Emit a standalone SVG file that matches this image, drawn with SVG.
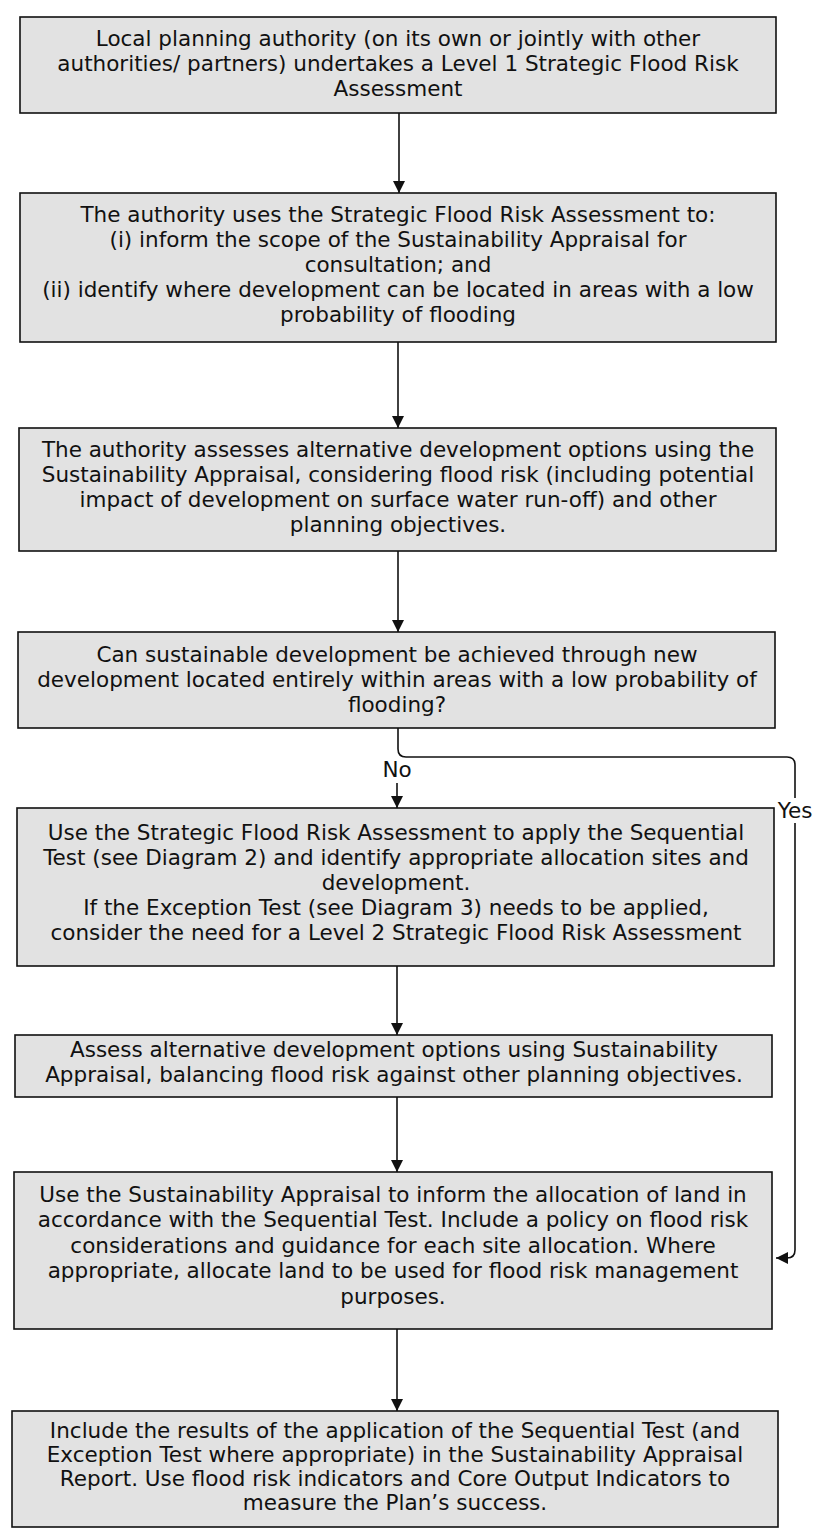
<svg xmlns="http://www.w3.org/2000/svg" width="814" height="1535" viewBox="0 0 814 1535">
<style>
  .box { fill: #e2e2e2; stroke: #111; stroke-width: 1.6; }
  .t { font-family: "DejaVu Sans", Verdana, sans-serif; font-size: 21.5px; fill: #111; text-anchor: middle; }
  .lbl { font-family: "DejaVu Sans", Verdana, sans-serif; font-size: 21.5px; fill: #111; text-anchor: middle; }
  .conn { fill: none; stroke: #111; stroke-width: 1.6; }
</style>
<defs>
  <marker id="ah" markerUnits="userSpaceOnUse" markerWidth="14" markerHeight="14" refX="12" refY="6" orient="auto">
    <path d="M0,0 L12,6 L0,12 Z" fill="#111"/>
  </marker>
</defs>
<rect width="814" height="1535" fill="#ffffff"/>

<g id="connectors">
  <line class="conn" x1="399" y1="113" x2="399" y2="193" marker-end="url(#ah)"/>
  <line class="conn" x1="398" y1="342" x2="398" y2="428" marker-end="url(#ah)"/>
  <line class="conn" x1="398" y1="551" x2="398" y2="632" marker-end="url(#ah)"/>
  <path class="conn" d="M398,728 V749 Q398,757 406,757 H787 Q795,757 795,765 V798"/>
  <path class="conn" d="M795,823 V1250 Q795,1258 787,1258 H776" marker-end="url(#ah)"/>
  <text class="lbl" x="397" y="777">No</text>
  <text class="lbl" x="795" y="818">Yes</text>
  <line class="conn" x1="397" y1="783" x2="397" y2="808" marker-end="url(#ah)"/>
  <line class="conn" x1="397" y1="966" x2="397" y2="1035" marker-end="url(#ah)"/>
  <line class="conn" x1="397" y1="1097" x2="397" y2="1172" marker-end="url(#ah)"/>
  <line class="conn" x1="397" y1="1329" x2="397" y2="1411" marker-end="url(#ah)"/>
</g>

<g id="n1">
  <rect class="box" x="20" y="17" width="756" height="96"/>
  <text class="t" x="398" y="46">Local planning authority (on its own or jointly with other</text>
  <text class="t" x="398" y="71">authorities/ partners) undertakes a Level 1 Strategic Flood Risk</text>
  <text class="t" x="398" y="96">Assessment</text>
</g>

<g id="n2">
  <rect class="box" x="20" y="193" width="756" height="149"/>
  <text class="t" x="398" y="222">The authority uses the Strategic Flood Risk Assessment to:</text>
  <text class="t" x="398" y="247">(i) inform the scope of the Sustainability Appraisal for</text>
  <text class="t" x="398" y="272">consultation; and</text>
  <text class="t" x="398" y="297">(ii) identify where development can be located in areas with a low</text>
  <text class="t" x="398" y="322">probability of flooding</text>
</g>

<g id="n3">
  <rect class="box" x="19" y="428" width="757" height="123"/>
  <text class="t" x="398" y="457">The authority assesses alternative development options using the</text>
  <text class="t" x="398" y="482">Sustainability Appraisal, considering flood risk (including potential</text>
  <text class="t" x="398" y="507">impact of development on surface water run-off) and other</text>
  <text class="t" x="398" y="532">planning objectives.</text>
</g>

<g id="n4">
  <rect class="box" x="18" y="632" width="757" height="96"/>
  <text class="t" x="397" y="662">Can sustainable development be achieved through new</text>
  <text class="t" x="397" y="687">development located entirely within areas with a low probability of</text>
  <text class="t" x="397" y="712">flooding?</text>
</g>

<g id="n5">
  <rect class="box" x="17" y="808" width="757" height="158"/>
  <text class="t" x="396" y="840">Use the Strategic Flood Risk Assessment to apply the Sequential</text>
  <text class="t" x="396" y="865">Test (see Diagram 2) and identify appropriate allocation sites and</text>
  <text class="t" x="396" y="890">development.</text>
  <text class="t" x="396" y="915">If the Exception Test (see Diagram 3) needs to be applied,</text>
  <text class="t" x="396" y="940">consider the need for a Level 2 Strategic Flood Risk Assessment</text>
</g>

<g id="n6">
  <rect class="box" x="15" y="1035" width="757" height="62"/>
  <text class="t" x="394" y="1057">Assess alternative development options using Sustainability</text>
  <text class="t" x="394" y="1082">Appraisal, balancing flood risk against other planning objectives.</text>
</g>

<g id="n7">
  <rect class="box" x="14" y="1172" width="758" height="157"/>
  <text class="t" x="393" y="1202">Use the Sustainability Appraisal to inform the allocation of land in</text>
  <text class="t" x="393" y="1227">accordance with the Sequential Test. Include a policy on flood risk</text>
  <text class="t" x="393" y="1253">considerations and guidance for each site allocation. Where</text>
  <text class="t" x="393" y="1278">appropriate, allocate land to be used for flood risk management</text>
  <text class="t" x="393" y="1304">purposes.</text>
</g>

<g id="n8">
  <rect class="box" x="12" y="1411" width="766" height="116"/>
  <text class="t" x="395" y="1438">Include the results of the application of the Sequential Test (and</text>
  <text class="t" x="395" y="1462">Exception Test where appropriate) in the Sustainability Appraisal</text>
  <text class="t" x="395" y="1486">Report. Use flood risk indicators and Core Output Indicators to</text>
  <text class="t" x="395" y="1510">measure the Plan’s success.</text>
</g>
</svg>
